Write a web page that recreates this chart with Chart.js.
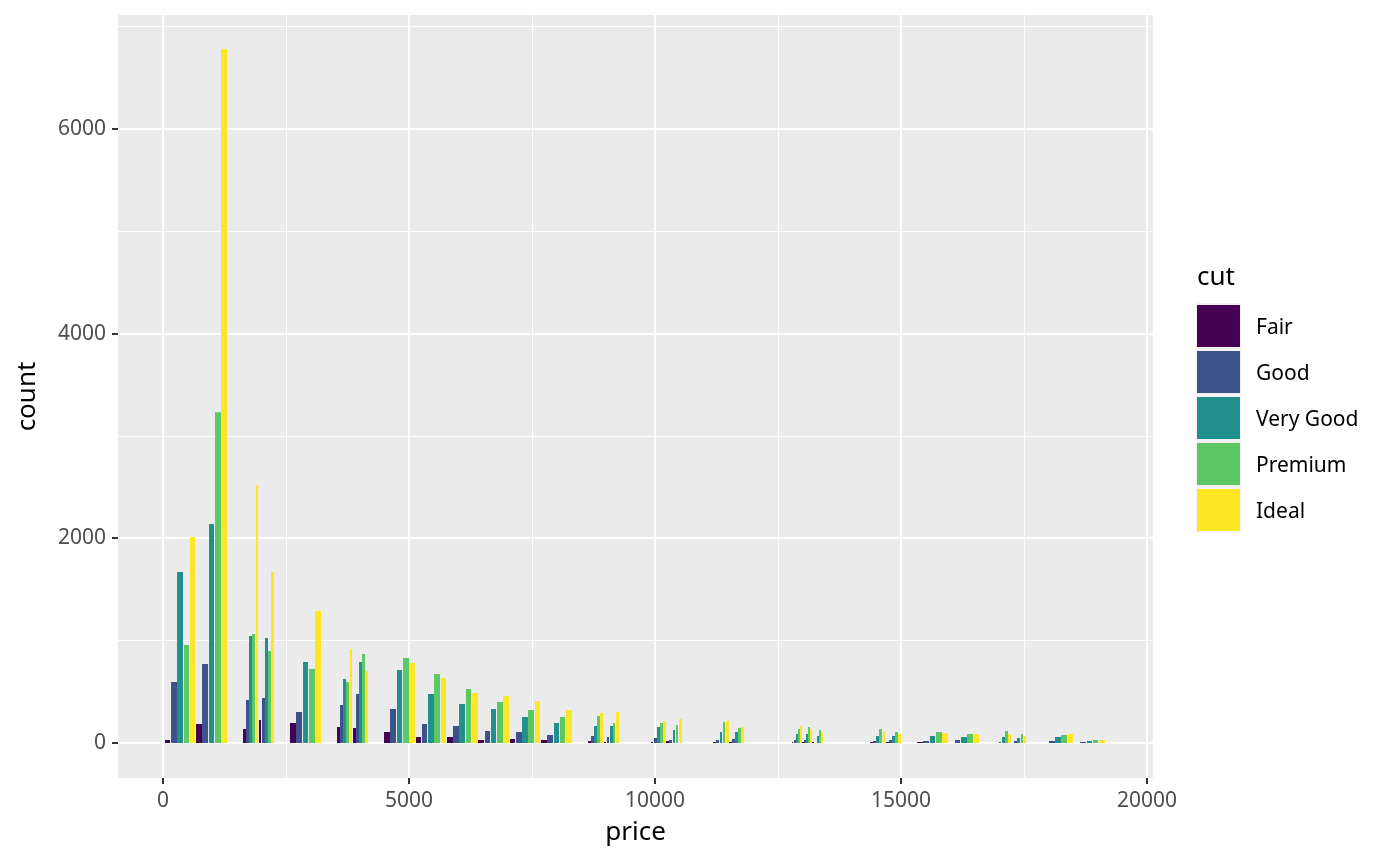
<!DOCTYPE html>
<html>
<head>
<meta charset="utf-8">
<script src="https://cdn.jsdelivr.net/npm/chart.js@4.4.1/dist/chart.umd.min.js"></script>
<style>
    body { margin: 0; background: #ffffff; }
    #wrap { position: relative; width: 1400px; height: 866px; font-family: "Noto Sans", sans-serif; }
    #legend { position: absolute; left: 1196px; top: 252px; }
    #legend .title { position: absolute; left: 1px; top: 0; font-size: 26px; line-height: 46px; color: #000; }
    .row { position: absolute; left: 0; width: 300px; height: 46px; }
    .key { position: absolute; left: 0; top: 0; width: 45px; height: 46px; background: #f2f2f2; }
    .key span { position: absolute; left: 1px; top: 2px; width: 43px; height: 42px; }
    .row .lab { position: absolute; left: 60px; top: 0; line-height: 46px; font-size: 21px; color: #000; }
</style>
</head>
<body>
<div id="wrap">
    <canvas id="histChart" width="1400" height="866"></canvas>
    <div id="legend"><div class="title">cut</div></div>
</div>
<script>
// each bar: [price from, price to, count]
const cuts = ["Fair", "Good", "Very Good", "Premium", "Ideal"];
const cutColors = ["#440154", "#3B528B", "#21908C", "#5DC863", "#FDE725"];

const fairBars = [
    [41, 142, 30], [671, 793, 186], [1626, 1687, 137], [1951, 1992, 225], [2581, 2703, 195],
    [3537, 3598, 156], [3862, 3923, 147], [4492, 4614, 107], [5142, 5244, 59], [5772, 5894, 59],
    [6402, 6524, 29], [7053, 7154, 39], [7683, 7805, 29], [8638, 8699, 20], [8963, 9004, 10],
    [9919, 9959, 10], [10223, 10284, 20], [11179, 11240, 10], [11504, 11565, 10], [12784, 12805, 10],
    [12987, 13028, 10], [13191, 13231, 10], [14370, 14431, 10], [14695, 14756, 10], [15325, 15447, 10]
];
const goodBars = [
    [163, 285, 596], [793, 915, 772], [1687, 1748, 420], [2012, 2073, 440], [2703, 2825, 303],
    [3598, 3659, 371], [3923, 3984, 479], [4614, 4736, 332], [5264, 5366, 186], [5894, 6016, 166],
    [6545, 6646, 117], [7175, 7297, 107], [7805, 7927, 78], [8699, 8760, 68], [9024, 9065, 59],
    [9980, 10041, 49], [10284, 10345, 29], [11240, 11301, 29], [11565, 11626, 39], [12825, 12866, 29],
    [13028, 13069, 29], [13252, 13272, 29], [14431, 14492, 20], [14756, 14817, 29], [15447, 15569, 20],
    [16097, 16199, 29], [16992, 17032, 10], [17297, 17358, 20], [18008, 18130, 20], [18638, 18760, 10]
];
const veryGoodBars = [
    [285, 407, 1670], [935, 1037, 2140], [1748, 1809, 1045], [2073, 2134, 1026], [2846, 2947, 791],
    [3659, 3720, 625], [3984, 4045, 791], [4756, 4858, 713], [5386, 5508, 479], [6016, 6138, 381],
    [6667, 6768, 332], [7297, 7418, 254], [7947, 8049, 195], [8760, 8821, 166], [9085, 9146, 166],
    [10041, 10102, 156], [10366, 10406, 127], [11321, 11362, 107], [11626, 11687, 107], [12866, 12906, 88],
    [13069, 13109, 88], [13293, 13333, 68], [14492, 14553, 68], [14817, 14878, 68], [15589, 15691, 68],
    [16219, 16341, 59], [17053, 17114, 59], [17358, 17419, 49], [18130, 18252, 59], [18780, 18882, 20]
];
const premiumBars = [
    [427, 528, 957], [1057, 1179, 3233], [1809, 1870, 1065], [2134, 2195, 899], [2967, 3089, 723],
    [3720, 3780, 596], [4045, 4106, 870], [4878, 5000, 830], [5508, 5630, 674], [6158, 6260, 528],
    [6789, 6911, 400], [7418, 7540, 322], [8069, 8171, 254], [8821, 8882, 264], [9146, 9187, 195],
    [10102, 10163, 195], [10427, 10467, 176], [11382, 11423, 205], [11687, 11748, 147], [12906, 12947, 137],
    [13109, 13150, 156], [13333, 13374, 127], [14553, 14614, 137], [14878, 14939, 107], [15711, 15833, 107],
    [16341, 16463, 88], [17114, 17175, 117], [17439, 17480, 88], [18252, 18374, 78], [18902, 19004, 29]
];
const idealBars = [
    [549, 650, 2012], [1179, 1301, 6780], [1890, 1931, 2520], [2195, 2256, 1670], [3089, 3211, 1290],
    [3801, 3841, 918], [4106, 4167, 703], [5000, 5122, 782], [5650, 5752, 635], [6280, 6402, 489],
    [6911, 7032, 459], [7561, 7663, 410], [8191, 8313, 322], [8882, 8943, 293], [9207, 9268, 303],
    [10163, 10223, 215], [10488, 10549, 234], [11443, 11504, 215], [11748, 11809, 156], [12947, 12987, 166],
    [13150, 13191, 137], [13374, 13415, 107], [14634, 14675, 107], [14939, 15000, 88], [15833, 15955, 98],
    [16484, 16585, 88], [17175, 17236, 88], [17500, 17541, 68], [18394, 18496, 88], [19024, 19146, 29]
];

// labelled ticks and the full set of grid lines (minor ones in between)
const xTicks = [0, 5000, 10000, 15000, 20000];
const yTicks = [0, 2000, 4000, 6000];
const xGrid = [0, 2500, 5000, 7500, 10000, 12500, 15000, 17500, 20000];
const yGrid = [0, 1000, 2000, 3000, 4000, 5000, 6000, 7000];

const allBars = [fairBars, goodBars, veryGoodBars, premiumBars, idealBars];

// turn bars into a closed outline the filler can paint down to zero
function outline(bars) {
    const pts = [];
    bars.forEach(([from, to, n]) => {
        pts.push({ x: from, y: 0 }, { x: from, y: n }, { x: to, y: n }, { x: to, y: 0 });
    });
    return pts;
}

const datasets = cuts.map((cut, i) => ({
    label: cut,
    data: outline(allBars[i]),
    backgroundColor: cutColors[i],
    borderColor: 'rgba(0,0,0,0)',
    borderWidth: 0,
    pointRadius: 0,
    pointHoverRadius: 0,
    tension: 0,
    fill: 'origin'
}));

const panelBg = {
    id: 'panelBg',
    beforeDraw(chart) {
        const { ctx, chartArea: a } = chart;
        ctx.save();
        ctx.fillStyle = '#EBEBEB';
        ctx.fillRect(a.left, a.top, a.right - a.left, a.bottom - a.top);
        ctx.restore();
    }
};

const tickFont = { family: 'Noto Sans', size: 21 };
const titleFont = { family: 'Noto Sans', size: 26 };

new Chart(document.getElementById('histChart'), {
    type: 'line',
    data: { datasets },
    options: {
        responsive: false,
        animation: false,
        events: [],
        layout: { padding: { left: 0, top: 15, right: 247, bottom: 0 } },
        scales: {
            x: {
                type: 'linear',
                min: -915,
                max: 20122,
                afterBuildTicks: (scale) => { scale.ticks = xGrid.map(v => ({ value: v })); },
                afterFit: (scale) => {
                    scale.height = 88;
                    scale.paddingLeft = 0;
                    scale.paddingRight = 0;
                },
                border: { display: false },
                grid: {
                    color: '#ffffff',
                    lineWidth: (c) => xTicks.includes(c.tick.value) ? 2 : 1,
                    tickLength: 6,
                    tickWidth: 2,
                    tickColor: (c) => xTicks.includes(c.tick.value) ? '#333333' : 'rgba(0,0,0,0)'
                },
                ticks: {
                    autoSkip: false,
                    maxRotation: 0,
                    padding: 4,
                    color: '#4D4D4D',
                    font: tickFont,
                    callback: (v) => xTicks.includes(v) ? String(v) : ''
                },
                title: {
                    display: true,
                    text: 'price',
                    color: '#000000',
                    font: titleFont,
                    padding: { top: 0, bottom: 18 }
                }
            },
            y: {
                type: 'linear',
                min: -342,
                max: 7114,
                afterBuildTicks: (scale) => { scale.ticks = yGrid.map(v => ({ value: v })); },
                afterFit: (scale) => {
                    scale.width = 118;
                    scale.paddingTop = 0;
                    scale.paddingBottom = 0;
                },
                border: { display: false },
                grid: {
                    color: '#ffffff',
                    lineWidth: (c) => yTicks.includes(c.tick.value) ? 2 : 1,
                    tickLength: 6,
                    tickWidth: 2,
                    tickColor: (c) => yTicks.includes(c.tick.value) ? '#333333' : 'rgba(0,0,0,0)'
                },
                ticks: {
                    autoSkip: false,
                    padding: 6,
                    color: '#4D4D4D',
                    font: tickFont,
                    callback: (v) => yTicks.includes(v) ? String(v) : ''
                },
                title: {
                    display: true,
                    text: 'count',
                    color: '#000000',
                    font: titleFont,
                    padding: { top: 12, bottom: 0 }
                }
            }
        },
        plugins: {
            legend: { display: false },
            tooltip: { enabled: false }
        }
    },
    plugins: [panelBg]
});

// legend drawn beside the panel, like the ggplot guide
const legend = document.getElementById('legend');
cuts.forEach((cut, i) => {
    const row = document.createElement('div');
    row.className = 'row';
    row.style.top = (51 + i * 46) + 'px';
    const key = document.createElement('div');
    key.className = 'key';
    const sw = document.createElement('span');
    sw.style.background = cutColors[i];
    key.appendChild(sw);
    const lab = document.createElement('div');
    lab.className = 'lab';
    lab.textContent = cut;
    row.appendChild(key);
    row.appendChild(lab);
    legend.appendChild(row);
});
</script>
</body>
</html>
